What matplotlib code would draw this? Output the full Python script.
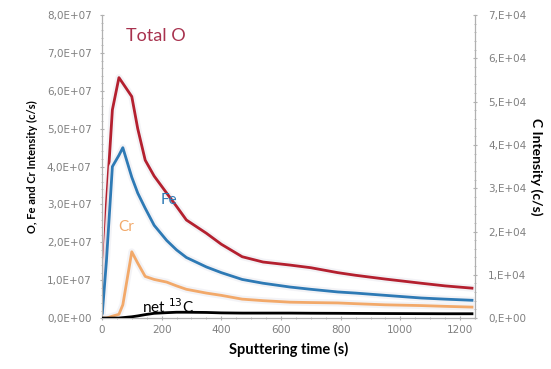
import numpy as np
import matplotlib.pyplot as plt
import matplotlib.patheffects as pe
from matplotlib.ticker import MultipleLocator, FuncFormatter

plt.rcParams['font.family'] = ['Lato', 'DejaVu Sans']

# sputtering time (s)
time_s = [0, 15, 35, 57, 70, 100, 120, 145, 175, 217, 250, 283, 350, 400, 470,
          540, 630, 700, 790, 850, 950, 1070, 1150, 1240]
# intensities, left axis (c/s)
total_o = [0, 3.0e7, 5.5e7, 6.35e7, 6.2e7, 5.85e7, 5.0e7, 4.17e7, 3.75e7, 3.3e7,
           2.95e7, 2.59e7, 2.24e7, 1.95e7, 1.62e7, 1.48e7, 1.40e7, 1.33e7,
           1.20e7, 1.13e7, 1.03e7, 0.92e7, 0.85e7, 0.79e7]
fe = [0, 1.5e7, 4.0e7, 4.3e7, 4.5e7, 3.72e7, 3.3e7, 2.9e7, 2.45e7, 2.05e7,
      1.8e7, 1.6e7, 1.35e7, 1.2e7, 1.02e7, 0.92e7, 0.82e7, 0.76e7, 0.69e7,
      0.66e7, 0.6e7, 0.53e7, 0.5e7, 0.47e7]
cr = [0, 0, 0.05e7, 0.1e7, 0.35e7, 1.75e7, 1.45e7, 1.1e7, 1.02e7, 0.95e7,
      0.85e7, 0.76e7, 0.66e7, 0.6e7, 0.5e7, 0.46e7, 0.42e7, 0.41e7, 0.4e7,
      0.38e7, 0.35e7, 0.33e7, 0.31e7, 0.29e7]
# net 13C, right axis (c/s)
net_c = [0, 0, 0, 0, 100, 300, 500, 800, 1100, 1250, 1350, 1350, 1300, 1200,
         1150, 1150, 1150, 1120, 1100, 1080, 1050, 1020, 1000, 1000]

red = '#B4202F'
blue = '#2E7AB5'
orange = '#F2A96A'
grey = '#808080'

fig = plt.figure(figsize=(5.51, 3.69), dpi=100)
ax = fig.add_axes([0.185, 0.138, 0.677, 0.821])
ax2 = ax.twinx()

glow = [pe.Stroke(linewidth=5, foreground='#f2f2f6', alpha=0.9), pe.Normal()]
ax.plot(time_s, total_o, color=red, lw=2, path_effects=glow, zorder=3)
ax.plot(time_s, fe, color=blue, lw=2, path_effects=glow, zorder=3)
ax.plot(time_s, cr, color=orange, lw=2, path_effects=glow, zorder=3)
ax2.plot(time_s, net_c, color='black', lw=2, zorder=3)

ax.set_xlim(0, 1250)
ax.set_ylim(0, 8e7)
ax2.set_ylim(0, 7e4)

ax.xaxis.set_major_locator(MultipleLocator(200))
ax.xaxis.set_minor_locator(MultipleLocator(50))
ax.yaxis.set_major_locator(MultipleLocator(1e7))
ax.yaxis.set_minor_locator(MultipleLocator(2e6))
ax2.yaxis.set_major_locator(MultipleLocator(1e4))
ax2.yaxis.set_minor_locator(MultipleLocator(2e3))

ax.yaxis.set_major_formatter(FuncFormatter(
    lambda v, p: '0,0E+00' if v == 0 else '%d,0E+07' % round(v / 1e7)))
ax2.yaxis.set_major_formatter(FuncFormatter(
    lambda v, p: '0,E+00' if v == 0 else '%d,E+04' % round(v / 1e4)))

for a in (ax, ax2):
    for s in a.spines.values():
        s.set_color('#b0b0b0')
    a.spines['top'].set_visible(False)
    a.tick_params(which='both', colors='#b0b0b0', labelcolor=grey,
                  labelsize=7.5, direction='inout')
    a.tick_params(which='major', length=3)
    a.tick_params(which='minor', length=2)
    for lab in a.get_xticklabels() + a.get_yticklabels():
        lab.set_family('DejaVu Sans')
ax.tick_params(axis='y', pad=6)
ax2.tick_params(axis='y', pad=8)

ax.set_xlabel('Sputtering time (s)', fontsize=10.5, fontweight='bold', labelpad=5)
ax.set_ylabel('O, Fe and Cr Intensity (c/s)', fontsize=8, fontweight='bold', labelpad=6)
ax2.set_ylabel('C Intensity (c/s)', fontsize=10, fontweight='bold', rotation=270, labelpad=12)

ax.text(80, 7.45e7, 'Total O', color='#A8324E', fontsize=13, va='center')
ax.text(195, 3.0e7, 'Fe', color=blue, fontsize=11)
ax.text(55, 2.3e7, 'Cr', color=orange, fontsize=11)
ax2.text(135, 1200, 'net $^{13}$C', color='black', fontsize=11)

fig.savefig('out.png', dpi=100)
